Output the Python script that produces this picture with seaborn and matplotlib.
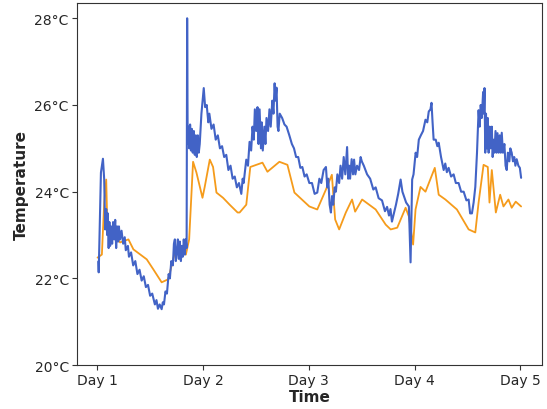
import matplotlib
matplotlib.use("Agg")
import matplotlib.pyplot as plt
import seaborn as sns
import pandas as pd
from matplotlib.ticker import FuncFormatter

# Sensor A (blue): (time in days since start of Day 1, temperature °C)
blue_points = [
    (0.01, 22.39), (0.014, 22.14), (0.035, 24.44), (0.054, 24.76), (0.066, 24.28), (0.075, 23.13),
    (0.085, 23.6), (0.094, 23.0), (0.1, 23.5), (0.108, 22.7), (0.115, 23.3), (0.122, 22.75),
    (0.13, 23.2), (0.141, 22.8), (0.15, 23.3), (0.16, 22.9), (0.17, 23.35), (0.179, 22.7),
    (0.188, 23.2), (0.198, 22.85), (0.205, 23.2), (0.216, 22.9), (0.23, 23.1), (0.245, 22.8),
    (0.26, 22.95), (0.27, 22.65), (0.29, 22.75), (0.30, 22.5), (0.32, 22.6), (0.34, 22.3),
    (0.36, 22.4), (0.38, 22.1), (0.40, 22.2), (0.42, 21.95), (0.44, 22.05), (0.46, 21.8),
    (0.48, 21.85), (0.50, 21.6), (0.52, 21.65), (0.545, 21.4), (0.56, 21.5), (0.574, 21.3),
    (0.59, 21.4), (0.609, 21.29), (0.62, 21.45), (0.631, 21.4), (0.645, 21.7), (0.659, 21.65),
    (0.675, 22.1), (0.687, 22.0), (0.70, 22.4), (0.715, 22.3), (0.725, 22.8), (0.734, 22.9),
    (0.743, 22.4), (0.753, 22.6), (0.762, 22.9), (0.772, 22.45), (0.781, 22.85), (0.791, 22.4),
    (0.80, 22.75), (0.809, 22.5), (0.818, 22.9), (0.828, 22.55), (0.836, 22.9), (0.845, 22.7),
    (0.85, 28.0), (0.855, 25.1), (0.862, 25.5), (0.87, 25.0), (0.878, 25.55), (0.886, 24.95),
    (0.894, 25.45), (0.903, 24.9), (0.913, 25.4), (0.922, 24.85), (0.932, 25.3), (0.941, 24.8),
    (0.951, 25.3), (0.96, 24.9), (0.969, 25.1), (0.985, 25.8), (1.007, 26.39), (1.02, 25.95),
    (1.035, 26.0), (1.05, 25.6), (1.06, 25.8), (1.08, 25.45), (1.10, 25.55), (1.12, 25.2),
    (1.14, 25.3), (1.16, 25.0), (1.18, 25.05), (1.20, 24.8), (1.22, 24.85), (1.24, 24.5),
    (1.26, 24.6), (1.28, 24.3), (1.30, 24.35), (1.32, 24.1), (1.34, 24.2), (1.362, 23.95),
    (1.375, 24.3), (1.384, 24.2), (1.409, 24.74), (1.425, 24.6), (1.44, 25.15), (1.455, 24.95),
    (1.468, 25.5), (1.48, 25.2), (1.49, 25.9), (1.503, 25.4), (1.515, 25.95), (1.525, 25.1),
    (1.535, 25.9), (1.548, 25.0), (1.555, 25.6), (1.565, 24.95), (1.58, 25.5), (1.59, 25.1),
    (1.6, 25.7), (1.615, 25.4), (1.628, 25.9), (1.64, 25.5), (1.655, 26.1), (1.666, 25.8),
    (1.677, 26.5), (1.685, 26.1), (1.695, 26.4), (1.705, 25.5), (1.713, 25.4), (1.725, 25.8),
    (1.748, 25.7), (1.77, 25.55), (1.79, 25.5), (1.816, 25.3), (1.84, 25.1), (1.86, 25.0),
    (1.88, 24.8), (1.9, 24.8), (1.92, 24.55), (1.939, 24.57), (1.96, 24.35), (1.98, 24.4),
    (2.005, 24.2), (2.03, 24.2), (2.055, 23.95), (2.08, 23.98), (2.10, 24.3), (2.118, 24.2),
    (2.14, 24.5), (2.162, 24.57), (2.175, 24.1), (2.184, 24.3), (2.197, 23.7), (2.209, 23.52),
    (2.22, 23.9), (2.231, 23.7), (2.245, 24.1), (2.256, 24.0), (2.27, 24.4), (2.287, 24.2),
    (2.30, 24.6), (2.315, 24.3), (2.33, 24.8), (2.345, 24.4), (2.362, 25.03), (2.372, 24.3),
    (2.381, 24.6), (2.39, 24.3), (2.405, 24.75), (2.418, 24.4), (2.428, 24.74), (2.44, 24.4),
    (2.456, 24.6), (2.475, 24.5), (2.49, 24.8), (2.501, 24.7), (2.52, 24.6), (2.551, 24.4),
    (2.58, 24.3), (2.61, 24.05), (2.632, 24.1), (2.66, 23.85), (2.692, 23.8), (2.72, 23.55),
    (2.74, 23.65), (2.758, 23.45), (2.772, 23.6), (2.786, 23.31), (2.805, 23.5), (2.824, 23.7),
    (2.845, 23.95), (2.868, 24.28), (2.885, 24.0), (2.899, 23.9), (2.92, 23.75), (2.946, 23.66),
    (2.962, 22.37), (2.977, 24.28), (2.99, 24.4), (3.01, 24.9), (3.024, 24.8), (3.04, 25.2),
    (3.059, 25.3), (3.08, 25.4), (3.103, 25.66), (3.12, 25.6), (3.134, 25.85), (3.15, 25.9),
    (3.16, 26.05), (3.17, 25.6), (3.18, 25.2), (3.2, 25.2), (3.215, 25.05), (3.228, 25.13),
    (3.25, 24.8), (3.275, 24.5), (3.29, 24.65), (3.305, 24.45), (3.322, 24.55), (3.345, 24.35),
    (3.369, 24.4), (3.39, 24.2), (3.416, 24.2), (3.44, 24.0), (3.464, 24.0), (3.49, 23.8),
    (3.511, 23.82), (3.525, 23.5), (3.542, 23.5), (3.558, 23.75), (3.574, 24.11), (3.59, 24.9),
    (3.605, 25.88), (3.615, 25.5), (3.625, 26.0), (3.635, 25.7), (3.648, 26.3), (3.655, 25.8),
    (3.661, 26.39), (3.668, 24.9), (3.675, 25.8), (3.684, 25.0), (3.692, 25.7), (3.70, 24.9),
    (3.71, 25.5), (3.72, 25.0), (3.73, 25.5), (3.738, 24.8), (3.746, 25.2), (3.755, 24.9),
    (3.765, 25.4), (3.775, 24.9), (3.784, 25.35), (3.795, 24.9), (3.805, 25.3), (3.815, 24.9),
    (3.824, 25.36), (3.835, 24.9), (3.849, 25.1), (3.86, 24.6), (3.871, 24.5), (3.882, 24.9),
    (3.896, 24.7), (3.905, 25.0), (3.918, 24.9), (3.93, 24.7), (3.942, 24.8), (3.953, 24.6),
    (3.965, 24.75), (3.981, 24.6), (3.995, 24.55), (4.007, 24.32),
]

# Sensor B (orange)
orange_t = [0.003, 0.044, 0.066, 0.085, 0.097, 0.153, 0.216, 0.295, 0.342, 0.468, 0.53, 0.609,
            0.671, 0.734, 0.781, 0.838, 0.869, 0.906, 0.938, 0.995, 1.016, 1.064, 1.095, 1.127,
            1.189, 1.252, 1.327, 1.346, 1.409, 1.447, 1.562, 1.609, 1.722, 1.798, 1.864, 2.005,
            2.08, 2.162, 2.218, 2.249, 2.287, 2.35, 2.409, 2.438, 2.504, 2.632, 2.727, 2.774,
            2.836, 2.915, 2.946, 2.986, 3.009, 3.056, 3.103, 3.191, 3.228, 3.291, 3.4, 3.511,
            3.574, 3.605, 3.652, 3.692, 3.708, 3.73, 3.768, 3.809, 3.84, 3.887, 3.918, 3.956, 4.007]
orange_v = [22.48, 22.55, 23.75, 24.28, 23.06, 23.06, 22.83, 22.9, 22.67, 22.44, 22.21, 21.91,
            21.98, 22.6, 22.74, 22.55, 22.9, 24.69, 24.44, 23.86, 24.11, 24.74, 24.57, 23.98,
            23.86, 23.70, 23.52, 23.52, 23.7, 24.57, 24.67, 24.46, 24.69, 24.62, 23.98, 23.66,
            23.59, 24.05, 24.39, 23.36, 23.13, 23.52, 23.82, 23.54, 23.82, 23.59, 23.24, 23.13,
            23.17, 23.63, 23.43, 22.78, 23.59, 24.11, 24.0, 24.55, 23.93, 23.82, 23.59, 23.13,
            23.06, 23.75, 24.62, 24.57, 23.75, 24.5, 23.52, 23.93, 23.66, 23.82, 23.63, 23.77, 23.66]

day_ticks = [0, 1, 2, 3, 4]
day_labels = ["Day 1", "Day 2", "Day 3", "Day 4", "Day 5"]
temp_ticks = [20, 22, 24, 26, 28]

sns.set_style("white")
plt.rcParams["font.family"] = ["DejaVu Sans"]

fig, ax = plt.subplots(figsize=(5.47, 4.10), dpi=100)
fig.subplots_adjust(left=0.141, right=0.99, top=0.99, bottom=0.107)

df_b = pd.DataFrame(blue_points, columns=["t", "v"])
df_o = pd.DataFrame({"t": orange_t, "v": orange_v})
sns.lineplot(data=df_o, x="t", y="v", ax=ax, color="#f59b1b", linewidth=1.3, sort=False)
sns.lineplot(data=df_b, x="t", y="v", ax=ax, color="#4263c6", linewidth=1.5, sort=False)

ax.set_xticks(day_ticks)
ax.set_xticklabels(day_labels)
ax.set_yticks(temp_ticks)
ax.yaxis.set_major_formatter(FuncFormatter(lambda v, p: f"{int(v)}°C"))
ax.set_ylim(20, 28.35)
ax.set_xlim(-0.19, 4.2)
ax.set_xlabel("Time", fontweight="bold", fontsize=11, labelpad=1)
ax.set_ylabel("Temperature", fontweight="bold", fontsize=11)
ax.tick_params(axis="both", labelsize=10, length=3.5, width=0.8, color="#333333",
               bottom=True, left=True, pad=2.5)
for s in ax.spines.values():
    s.set_color("#333333")
    s.set_linewidth(0.8)

fig.savefig("out.png", dpi=100)
